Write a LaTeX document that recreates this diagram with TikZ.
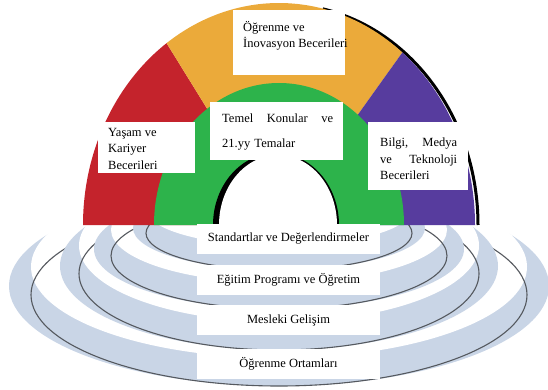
\documentclass[tikz,border=0pt]{standalone}
\usepackage{fontspec}
\setmainfont{Liberation Serif}
\definecolor{lifered}{HTML}{C4232C}
\definecolor{learnorange}{HTML}{EBAA3A}
\definecolor{mediapurple}{HTML}{573C9E}
\definecolor{coregreen}{HTML}{2DB34B}
\definecolor{ringblue}{HTML}{C9D5E6}
\definecolor{ringline}{HTML}{55595F}
\tikzset{
  lbl/.style={inner sep=0pt,align=left,font=\fontsize{12.5}{16.5}\selectfont},
  base/.style={fill=white,inner sep=0pt,minimum width=183pt,minimum height=30pt,font=\fontsize{12.5}{14}\selectfont}
}
\begin{document}
\begin{tikzpicture}[x=1pt,y=1pt]
\useasboundingbox (0,0) rectangle (548,389);

% rings, outer first, cut at the base line
\begin{scope}
\clip (0,0) rectangle (548,164);
\foreach \cy/\rx/\ry/\w/\t in {103/270/100/22/28,123/219/84/19/28,140/185/60/17/26,161/146/42/13/24}{
  \pgfmathsetmacro\ryin{\ry-0.4*\w}
  \pgfmathsetmacro\rxin{\rx-\w}
  \pgfmathsetmacro\yin{\cy-\ry+\t+\ryin}
  \pgfmathsetmacro\yd{\cy-\ry+\ryin}
  \fill[ringblue] (279,\cy) ellipse[x radius=\rx pt,y radius=\ry pt];
  \fill[white] (279,\yin) ellipse[x radius=\rxin pt,y radius=\ryin pt];
  \draw[ringline,line width=1.1pt] (279,\yd) ellipse[x radius=\rxin pt,y radius=\ryin pt];
}
\end{scope}

% dome
\draw[line width=3pt] ({282+196*cos(78)},{164+221*sin(78)}) arc[start angle=78,end angle=0,x radius=196pt,y radius=221pt];
\fill[lifered] (279,164) -- (83,164) arc[start angle=180,end angle=125,x radius=196pt,y radius=222pt] -- cycle;
\fill[learnorange] (279,164) -- ({279+196*cos(125)},{164+222*sin(125)}) arc[start angle=125,end angle=51,x radius=196pt,y radius=222pt] -- cycle;
\fill[mediapurple] (279,164) -- ({279+196*cos(51)},{164+222*sin(51)}) arc[start angle=51,end angle=0,x radius=196pt,y radius=222pt] -- cycle;
\fill[coregreen] (154,164) arc[start angle=180,end angle=0,x radius=125pt,y radius=142pt] -- cycle;
\fill[black] (213,164) arc[start angle=180,end angle=0,x radius=63pt,y radius=72pt] -- cycle;
\fill[white] (219,164) arc[start angle=180,end angle=0,x radius=59pt,y radius=70pt] -- cycle;

% boxes of the dome
\fill[white] (233,314) rectangle (345,379);
\fill[white] (210,229) rectangle (343,287);
\fill[white] (98,216) rectangle (195,267);
\fill[white] (368,199) rectangle (468,267);
\node[lbl,below right] (learn) at (243,368) {Öğrenme ve\\İnovasyon Becerileri};
\node[lbl,below right,text width=111pt,font=\fontsize{12.5}{25}\selectfont] (core) at (222,275) {Temel\hfill Konular\hfill ve\\21.yy Temalar};
\node[lbl,below right] (life) at (108,261) {Yaşam ve\\Kariyer\\Becerileri};
\node[lbl,below right,text width=77pt] (media) at (380,251) {Bilgi,\hfill Medya\\ve\hfill Teknoloji\\Becerileri};

% bases
\node[base] (stand) at (288.5,150) {Standartlar ve Değerlendirmeler};
\node[base] (curr) at (288.5,109) {Eğitim Programı ve Öğretim};
\node[base] (prof) at (288.5,69) {Mesleki Gelişim};
\node[base] (env) at (288.5,25) {Öğrenme Ortamları};
\end{tikzpicture}
\end{document}
